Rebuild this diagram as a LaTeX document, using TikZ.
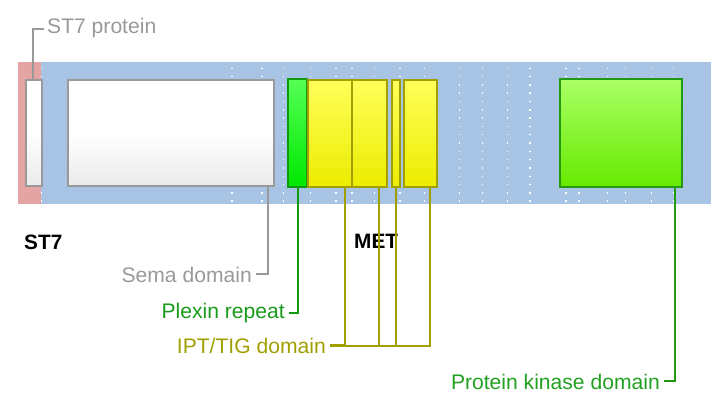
\documentclass[tikz,border=0pt]{standalone}
\usepackage{fontspec}
\setmainfont{Liberation Sans}
\definecolor{bandblue}{HTML}{A8C4E4}
\definecolor{bandred}{HTML}{E4A4A4}
\definecolor{graybd}{HTML}{999999}
\definecolor{pgreenbd}{HTML}{119911}
\definecolor{kgreenbd}{HTML}{229911}
\definecolor{olivebd}{HTML}{A0A000}
\definecolor{ptext}{HTML}{1A9A1A}
\definecolor{ktext}{HTML}{22A022}
\definecolor{ipttext}{HTML}{A0A000}
\begin{document}
\begin{tikzpicture}[x=1pt,y=-1pt,
  lbl/.style={inner sep=0pt, font=\fontsize{21.1}{25}\selectfont},
  bold/.style={inner sep=0pt, font=\fontsize{20.8}{25}\selectfont\bfseries},
  boxbase/.style={rectangle, inner sep=0pt, outer sep=0pt, line width=2pt, anchor=north west},
  graybox/.style={boxbase, draw=graybd, top color=white, bottom color=black!8, middle color=white},
  plexbox/.style={boxbase, draw=pgreenbd, top color={rgb,255:red,85;green,255;blue,85}, bottom color={rgb,255:red,0;green,232;blue,0}},
  iptbox/.style={boxbase, draw=olivebd, top color={rgb,255:red,255;green,255;blue,90}, bottom color={rgb,255:red,236;green,236;blue,0}},
  kinbox/.style={boxbase, draw=kgreenbd, top color={rgb,255:red,170;green,255;blue,100}, bottom color={rgb,255:red,102;green,234;blue,0}},
  conn/.style={line width=2pt}
]
\useasboundingbox (0,0) rectangle (719,398);
% bands
\fill[bandred] (18,62) rectangle (41,204);
\fill[bandblue] (41,62) rectangle (711,204);
% dotted grid lines
\foreach \x in {41.7,232,262,283.3,310.7,336,352,374.3,400,424.3,459.3,482.3,507.3,530,566,579,607.7,625.7,651.7,673.3}
  \draw[white, line width=1.5pt, dash pattern=on 1.5pt off 6.8pt] (\x,67.6) -- (\x,204);
% boxes
\node[graybox, minimum width=15.5pt, minimum height=106pt] (st7box) at (26,80) {};
\node[graybox, minimum width=206pt, minimum height=106pt] (semabox) at (68,80) {};
\node[plexbox, minimum width=19.5pt, minimum height=107.5pt] (plexbox) at (287.5,79.5) {};
\node[iptbox, minimum width=44.3pt, minimum height=107pt] (ipt1) at (307.7,80) {};
\node[iptbox, minimum width=34.7pt, minimum height=107pt] (ipt2) at (352,80) {};
\node[iptbox, minimum width=7.4pt, minimum height=107pt] (ipt3) at (392.3,80) {};
\node[iptbox, minimum width=33pt, minimum height=107pt] (ipt4) at (404.3,80) {};
\node[kinbox, minimum width=122.3pt, minimum height=107.2pt] (kinbox) at (560,79.5) {};
% labels
\node[lbl, text=graybd, anchor=base west] (st7lbl) at (47,34) {ST7 protein};
\node[bold, anchor=base west] (st7) at (24,249) {ST7};
\node[bold, anchor=base west] (met) at (354,248) {MET};
\node[lbl, text=graybd, anchor=base east] (semalbl) at (252,282) {Sema domain};
\node[lbl, text=ptext, anchor=base east] (plexlbl) at (285,318) {Plexin repeat};
\node[lbl, text=ipttext, anchor=base east] (iptlbl) at (326,353) {IPT/TIG domain};
\node[lbl, text=ktext, anchor=base east] (kinlbl) at (660,389) {Protein kinase domain};
% connector junctions
\coordinate (iptj) at (430,346);
% connectors
\draw[conn, graybd] ([xshift=-0.7pt]st7box.north) |- ([xshift=-3pt]st7lbl.west);
\draw[conn, graybd] ([xshift=-6.3pt]semabox.south east) |- ([xshift=4pt]semalbl.east);
\draw[conn, pgreenbd] ([xshift=0.5pt]plexbox.south) |- ([xshift=4pt]plexlbl.east);
\draw[conn, olivebd] ([xshift=-7.2pt]ipt1.south east) |- ([xshift=4pt]iptlbl.east);
\draw[conn, olivebd] ([xshift=-7.4pt]ipt2.south east) -- ([xshift=-7.4pt]ipt2.south east |- iptj);
\draw[conn, olivebd] (ipt3.south) -- (ipt3.south |- iptj);
\draw[conn, olivebd] ([xshift=-7.3pt]ipt4.south east) -- (iptj) -- ([xshift=4pt]iptlbl.east |- iptj);
\draw[conn, kgreenbd] ([xshift=-7pt]kinbox.south east) |- ([xshift=4pt]kinlbl.east);
\end{tikzpicture}
\end{document}
